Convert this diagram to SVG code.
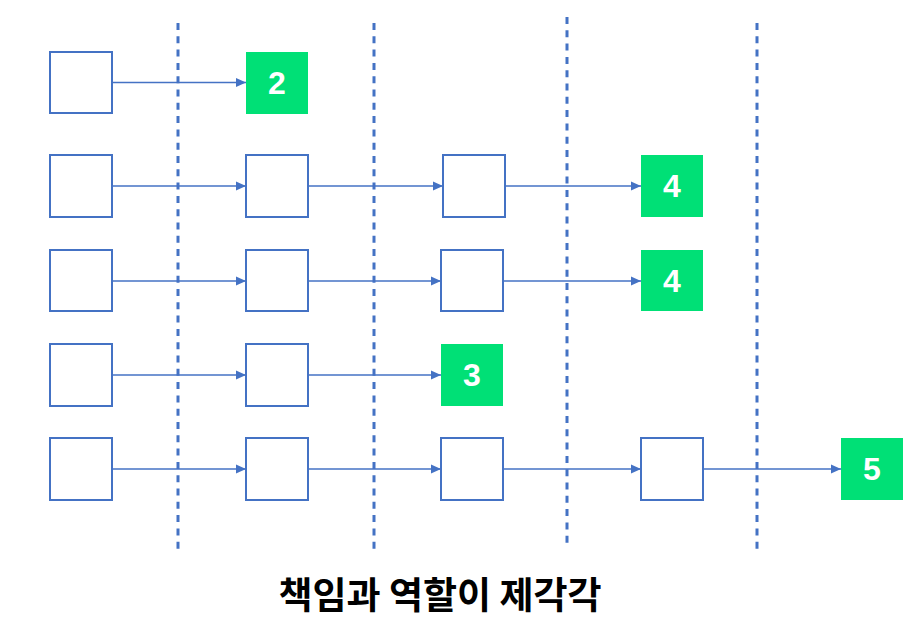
<svg xmlns="http://www.w3.org/2000/svg" width="918" height="628" viewBox="0 0 918 628">
<style>
.box{fill:#fff;stroke:#4472C4;stroke-width:2}
.done{fill:#00E076}
.num{font-family:"Liberation Sans",Arial,sans-serif;font-weight:bold;font-size:32px;fill:#fff;text-anchor:middle;dominant-baseline:central}
.link{stroke:#4472C4;stroke-width:1.6;fill:none;marker-end:url(#ah)}
.div{stroke:#4472C4;stroke-width:3;stroke-dasharray:7 6.3;fill:none}
.title{font-family:"Noto Sans CJK KR","Noto Sans",sans-serif;font-weight:bold;font-size:37px;fill:#000;text-anchor:middle}
</style>
<defs>
<marker id="ah" viewBox="0 0 10 10" refX="10" refY="5" markerWidth="10" markerHeight="10" markerUnits="userSpaceOnUse" orient="auto">
<path d="M0,0.5 L10,5 L0,9.5 Z" fill="#4472C4"/>
</marker>
</defs>
<g id="dividers">
<line class="div" x1="178" y1="23" x2="178" y2="549"/>
<line class="div" x1="374" y1="23" x2="374" y2="549"/>
<line class="div" x1="567" y1="17" x2="567" y2="543"/>
<line class="div" x1="757" y1="23" x2="757" y2="549"/>
</g>
<g id="connectors">
<line class="link" x1="112" y1="82.5" x2="246" y2="82.5"/>
<line class="link" x1="112" y1="186" x2="246" y2="186"/>
<line class="link" x1="308" y1="186" x2="443" y2="186"/>
<line class="link" x1="505" y1="186" x2="641" y2="186"/>
<line class="link" x1="112" y1="281" x2="246" y2="281"/>
<line class="link" x1="308" y1="281" x2="441" y2="281"/>
<line class="link" x1="503" y1="281" x2="641" y2="281"/>
<line class="link" x1="112" y1="375" x2="246" y2="375"/>
<line class="link" x1="308" y1="375" x2="441" y2="375"/>
<line class="link" x1="112" y1="469" x2="246" y2="469"/>
<line class="link" x1="308" y1="469" x2="441" y2="469"/>
<line class="link" x1="503" y1="469" x2="641" y2="469"/>
<line class="link" x1="703" y1="469" x2="841" y2="469"/>
</g>
<g id="r1a"><rect class="box" x="50" y="52" width="62" height="61"/></g>
<g id="r1b"><rect class="done" x="246" y="52" width="62" height="62"/><text class="num" x="277" y="83">2</text></g>
<g id="r2a"><rect class="box" x="50" y="155" width="62" height="62"/></g>
<g id="r2b"><rect class="box" x="246" y="155" width="62" height="62"/></g>
<g id="r2c"><rect class="box" x="443" y="155" width="62" height="62"/></g>
<g id="r2d"><rect class="done" x="641" y="155" width="62" height="62"/><text class="num" x="672" y="186">4</text></g>
<g id="r3a"><rect class="box" x="50" y="250" width="62" height="61"/></g>
<g id="r3b"><rect class="box" x="246" y="250" width="62" height="61"/></g>
<g id="r3c"><rect class="box" x="441" y="250" width="62" height="61"/></g>
<g id="r3d"><rect class="done" x="641" y="250" width="62" height="61"/><text class="num" x="672" y="280.5">4</text></g>
<g id="r4a"><rect class="box" x="50" y="344" width="62" height="62"/></g>
<g id="r4b"><rect class="box" x="246" y="344" width="62" height="62"/></g>
<g id="r4c"><rect class="done" x="441" y="344" width="62" height="62"/><text class="num" x="472" y="375">3</text></g>
<g id="r5a"><rect class="box" x="50" y="438" width="62" height="62"/></g>
<g id="r5b"><rect class="box" x="246" y="438" width="62" height="62"/></g>
<g id="r5c"><rect class="box" x="441" y="438" width="62" height="62"/></g>
<g id="r5d"><rect class="box" x="641" y="438" width="62" height="62"/></g>
<g id="r5e"><rect class="done" x="841" y="438" width="62" height="62"/><text class="num" x="872" y="469">5</text></g>
<text class="title" x="440" y="609">책임과 역할이 제각각</text>
</svg>
